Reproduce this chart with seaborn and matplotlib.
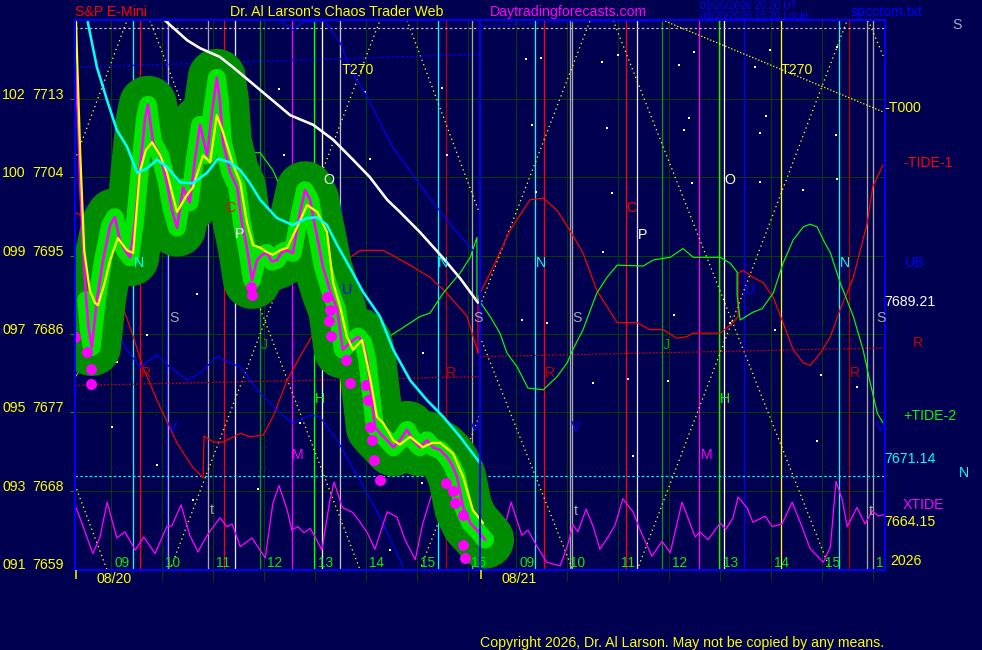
import numpy as np
import matplotlib
matplotlib.use("Agg")
import matplotlib.pyplot as plt
import seaborn as sns

# ------------------------------------------------------------------ data
SESSION_OPEN = 8.3      # clock hour of first bar of each session
SESSION_LEN = 7.94      # hours shown per session
DAYS = ["08/20", "08/21"]
HOURS = [9, 10, 11, 12, 13, 14, 15, 16]
PRICE_TICKS = [7659, 7668, 7677, 7686, 7695, 7704, 7713]
PRICE_CODES = ["091", "093", "095", "097", "099", "100", "102"]

# day-1 price (close) line
price_h = [8.30, 8.36, 8.40, 8.46, 8.52, 8.57, 8.63, 8.73, 8.85, 8.99, 9.08, 9.18, 9.28, 9.38, 9.48, 9.57,
           9.67, 9.73, 9.83, 9.97, 10.10, 10.20, 10.30, 10.42, 10.55, 10.65, 10.75, 10.89, 10.99, 11.08,
           11.14, 11.20, 11.34, 11.48, 11.57, 11.67, 11.77, 11.87, 11.97, 12.06, 12.16, 12.26, 12.36,
           12.46, 12.57, 12.71, 12.81, 12.91, 12.97, 13.06, 13.16, 13.30, 13.44, 13.55, 13.69, 13.85,
           13.95, 14.03, 14.08, 14.18, 14.28, 14.42, 14.54, 14.67, 14.81, 14.93, 15.06, 15.20, 15.32,
           15.46, 15.59, 15.69, 15.79, 15.91, 16.05, 16.18, 16.34]
price_p = [7716.5, 7711.1, 7703.4, 7695.9, 7689.9, 7686.5, 7684.5, 7689.9, 7694.5, 7698.5, 7699.4, 7696.8,
           7695.6, 7694.8, 7699.1, 7704.8, 7710.6, 7712.3, 7708.0, 7706.5, 7703.4, 7700.2, 7698.2, 7702.8,
           7701.1, 7706.0, 7710.0, 7706.5, 7711.7, 7715.4, 7712.8, 7708.0, 7704.6, 7702.8, 7698.8, 7695.9,
           7692.2, 7694.5, 7695.1, 7695.3, 7694.3, 7694.5, 7695.4, 7695.6, 7695.3, 7699.9, 7702.5, 7701.4,
           7699.4, 7696.8, 7693.7, 7691.0, 7688.8, 7684.2, 7685.0, 7685.7, 7685.0, 7683.0, 7680.4, 7675.3,
           7674.6, 7673.8, 7673.0, 7673.8, 7675.0, 7673.8, 7673.0, 7673.8, 7673.0, 7672.7, 7671.9, 7671.0,
           7669.6, 7666.1, 7664.3, 7663.5, 7662.4]

# short moving average (yellow)
ma_h = [8.32, 8.34, 8.40, 8.48, 8.59, 8.69, 8.75, 8.87, 8.99, 9.14, 9.32, 9.44, 9.57, 9.69, 9.81, 9.97,
        10.10, 10.30, 10.50, 10.61, 10.81, 10.95, 11.08, 11.20, 11.40, 11.54, 11.67, 11.79, 11.93, 12.06,
        12.18, 12.32, 12.46, 12.65, 12.85, 13.05, 13.24, 13.36, 13.50, 13.63, 13.75, 13.93, 14.08, 14.22,
        14.34, 14.54, 14.67, 14.87, 15.12, 15.30, 15.46, 15.71, 15.91, 16.10, 16.30]
ma_p = [7722.0, 7718.0, 7707.1, 7695.6, 7691.0, 7689.6, 7689.3, 7691.6, 7694.5, 7697.0, 7695.6, 7695.3,
        7704.6, 7707.1, 7708.0, 7706.5, 7704.6, 7700.0, 7702.0, 7702.8, 7706.5, 7705.7, 7711.1, 7709.2,
        7705.4, 7703.4, 7698.8, 7696.2, 7695.9, 7695.4, 7695.1, 7695.6, 7695.9, 7698.2, 7700.8, 7700.0,
        7697.7, 7691.9, 7689.1, 7685.7, 7684.2, 7685.3, 7681.1, 7676.5, 7675.8, 7673.8, 7673.3, 7674.2,
        7673.0, 7673.5, 7673.5, 7672.3, 7669.6, 7665.8, 7664.3]

# long moving average (cyan)
cyan_h = [8.55, 8.73, 8.93, 9.12, 9.32, 9.52, 9.71, 9.91, 10.10, 10.36, 10.61, 10.89, 11.10, 11.34, 11.54,
          11.73, 11.93, 12.26, 12.57, 12.85, 13.05, 13.24, 13.44, 13.69, 13.95, 14.28, 14.54, 14.87, 15.20,
          15.52, 15.85, 16.24]
cyan_p = [7721.8, 7716.6, 7712.8, 7709.4, 7707.5, 7704.5, 7705.0, 7706.0, 7705.2, 7703.4, 7703.3, 7704.5,
          7706.1, 7705.7, 7704.8, 7703.3, 7701.4, 7699.3, 7698.5, 7699.3, 7699.4, 7698.5, 7696.2, 7693.6,
          7690.8, 7688.0, 7684.2, 7680.7, 7678.4, 7676.5, 7674.2, 7671.2]

# white projection line
white_h = [10.06, 10.50, 10.75, 11.14, 11.40, 11.93, 12.52, 12.97, 13.36, 13.75, 14.08, 14.42, 14.67,
           15.06, 15.46, 15.85, 16.20]
white_p = [7722.0, 7719.7, 7718.8, 7717.8, 7716.6, 7714.0, 7711.1, 7710.0, 7708.3, 7706.0, 7704.0, 7701.4,
           7700.0, 7697.7, 7695.1, 7692.4, 7689.6]

# low markers (magenta dots)
dot_h = [8.30, 8.54, 8.61, 8.61, 11.75, 11.77, 13.24, 13.30, 13.28, 13.32, 13.61, 13.69, 14.01, 14.05,
         14.08, 14.12, 14.16, 14.28, 15.57, 15.71, 15.75, 15.91, 15.91, 15.95]
dot_p = [7685.7, 7683.9, 7682.0, 7680.3, 7691.4, 7690.5, 7690.2, 7688.8, 7687.5, 7685.8, 7683.0, 7680.4,
         7680.1, 7678.4, 7675.3, 7673.8, 7671.5, 7669.2, 7668.9, 7668.0, 7666.6, 7665.2, 7661.8, 7660.3]

# -TIDE-1 (red)
tide1_d1_h = [8.30, 8.65, 8.85, 8.99, 9.12, 9.42, 9.63, 9.97, 10.30, 10.61, 10.81, 10.83, 11.01, 11.20,
              11.54, 11.73, 11.99, 12.18, 12.46, 12.71, 13.05, 13.30, 13.63, 13.89, 14.34, 14.81, 15.26,
              15.59, 15.99, 16.18, 16.20]
tide1_d1_p = [7700.0, 7698.8, 7695.9, 7693.6, 7691.0, 7686.1, 7682.2, 7677.6, 7673.5, 7670.7, 7669.5,
              7674.3, 7673.6, 7673.6, 7674.6, 7674.2, 7674.4, 7676.5, 7680.7, 7683.4, 7686.8, 7690.2,
              7694.5, 7695.6, 7695.6, 7694.1, 7692.5, 7690.7, 7688.0, 7684.2, 7683.8]
tide1_d2_h = [8.26, 8.50, 8.89, 9.28, 9.54, 9.81, 10.06, 10.32, 10.59, 10.99, 11.38, 11.63, 11.89, 12.16,
              12.36, 12.48, 13.01, 13.26, 13.36, 13.36, 13.46, 13.65, 13.85, 14.05, 14.24, 14.44, 14.64,
              14.77, 14.97, 15.17, 15.36, 15.62, 15.89, 16.00, 16.20]
tide1_d2_p = [7690.2, 7693.0, 7697.9, 7701.4, 7701.6, 7700.2, 7697.9, 7695.3, 7691.0, 7687.3, 7687.3,
              7686.5, 7686.5, 7685.5, 7685.7, 7686.1, 7686.1, 7687.3, 7688.0, 7693.0, 7693.3, 7692.5,
              7691.9, 7690.2, 7687.3, 7684.2, 7682.7, 7682.4, 7683.8, 7685.7, 7688.8, 7692.5, 7698.7,
              7702.9, 7705.4]

# +TIDE-2 (green)
tide2_d1_h = [8.30, 8.65, 8.99, 9.32, 9.57, 9.77, 10.16, 10.50, 10.75, 10.83, 10.85, 11.01, 11.40, 11.93,
              12.18, 12.46, 12.71, 12.97, 13.24, 13.50, 13.75, 14.08, 14.34, 14.67, 15.06, 15.26, 15.52,
              15.85, 16.05, 16.18]
tide2_d1_p = [7681.0, 7684.2, 7688.0, 7691.9, 7695.9, 7701.6, 7708.0, 7710.8, 7711.5, 7713.4, 7707.3,
              7707.1, 7706.8, 7706.8, 7704.8, 7701.0, 7697.1, 7693.3, 7690.7, 7687.6, 7685.7, 7685.3,
              7685.3, 7686.5, 7688.0, 7688.4, 7690.7, 7693.0, 7694.8, 7697.1]
tide2_d2_h = [8.24, 8.50, 8.69, 8.83, 9.03, 9.24, 9.54, 9.81, 10.01, 10.12, 10.32, 10.59, 10.79, 10.99,
              11.50, 11.70, 12.03, 12.28, 12.48, 13.01, 13.21, 13.34, 13.34, 13.40, 13.65, 13.83, 14.05,
              14.24, 14.44, 14.64, 14.77, 14.91, 15.03, 15.17, 15.36, 15.62, 15.81, 15.95, 16.09, 16.20]
tide2_d2_p = [7690.2, 7688.0, 7686.1, 7683.8, 7682.2, 7679.8, 7679.6, 7681.1, 7682.7, 7684.2, 7686.5,
              7690.7, 7692.5, 7693.9, 7693.8, 7694.5, 7694.8, 7695.8, 7694.8, 7694.8, 7694.1, 7693.1,
              7690.5, 7687.6, 7688.5, 7688.9, 7690.7, 7694.1, 7696.8, 7698.3, 7698.6, 7698.3, 7696.8,
              7695.3, 7691.9, 7688.0, 7684.2, 7680.4, 7676.9, 7675.8]

# thin blue lines (day 1)
blue_a_h = [12.32, 12.57, 12.77, 13.20, 13.50, 13.69, 14.03, 14.28, 14.54, 14.93, 15.32, 15.71, 16.10]
blue_a_p = [7721.9, 7720.9, 7721.8, 7721.9, 7719.4, 7716.5, 7713.2, 7710.3, 7707.3, 7704.2, 7701.1,
            7698.2, 7695.6]
blue_b_h = [8.50, 8.73, 8.85, 8.99, 9.32, 9.57, 9.91, 10.16, 10.50, 10.75, 11.08, 11.54, 11.93, 12.32,
            12.57, 12.91, 13.10, 13.44, 13.89, 14.28, 14.73]
blue_b_p = [7700.8, 7694.5, 7691.0, 7687.8, 7684.2, 7682.2, 7683.6, 7682.2, 7680.7, 7681.5, 7683.4,
            7682.2, 7679.2, 7676.9, 7675.8, 7676.7, 7676.5, 7673.8, 7669.2, 7665.0, 7659.3]

# XTIDE (magenta oscillator)
xtide_d1_h = [8.32, 8.46, 8.65, 8.79, 8.93, 9.12, 9.28, 9.48, 9.65, 9.87, 10.10, 10.20, 10.38, 10.55,
              10.71, 10.89, 11.14, 11.28, 11.38, 11.54, 11.77, 12.03, 12.18, 12.30, 12.46, 12.55, 12.67,
              12.79, 12.91, 13.01, 13.14, 13.30, 13.38, 13.54, 13.75, 13.89, 14.03, 14.18, 14.42, 14.61,
              14.77, 14.97, 15.12, 15.32, 15.50, 15.71, 15.89, 16.08, 16.24]
xtide_d1_p = [7666.1, 7663.9, 7660.8, 7662.7, 7666.7, 7662.6, 7663.3, 7661.2, 7662.7, 7660.8, 7663.9,
              7664.0, 7666.4, 7662.9, 7661.0, 7662.9, 7664.9, 7663.9, 7664.2, 7661.6, 7662.6, 7660.3,
              7666.6, 7668.6, 7665.8, 7663.5, 7663.9, 7663.2, 7663.7, 7662.7, 7661.2, 7667.0, 7669.0,
              7666.1, 7665.5, 7664.4, 7663.2, 7661.3, 7665.6, 7665.0, 7662.4, 7660.1, 7664.3, 7668.1,
              7664.3, 7666.1, 7665.6, 7663.5, 7661.8]
xtide_d2_h = [8.46, 8.63, 8.91, 9.12, 9.24, 9.42, 9.61, 9.87, 10.01, 10.12, 10.22, 10.38, 10.52, 10.65,
              10.81, 10.95, 11.10, 11.30, 11.44, 11.67, 11.87, 12.03, 12.26, 12.52, 12.61, 12.77, 13.01,
              13.12, 13.26, 13.36, 13.54, 13.65, 13.89, 14.03, 14.22, 14.42, 14.61, 14.77, 15.03, 15.17,
              15.28, 15.40, 15.50, 15.69, 15.85, 15.99, 16.11, 16.24]
xtide_d2_p = [7661.0, 7660.5, 7666.7, 7662.9, 7663.5, 7661.6, 7659.8, 7659.4, 7661.6, 7664.1, 7663.3,
              7665.9, 7663.9, 7661.3, 7662.7, 7664.1, 7667.1, 7665.6, 7663.5, 7660.5, 7662.2, 7660.9,
              7666.7, 7662.7, 7663.3, 7662.4, 7664.3, 7663.6, 7664.9, 7667.3, 7666.0, 7664.4, 7665.1,
              7663.9, 7664.2, 7666.7, 7663.9, 7661.4, 7659.8, 7661.6, 7669.1, 7667.0, 7663.9, 7666.1,
              7664.2, 7665.7, 7665.1, 7665.3]

# timing lines: (clock hour, kind)
astro_d1_h = [9.44, 9.57, 10.10, 10.12, 10.91, 11.22, 11.44, 11.93, 12.55, 12.99, 13.14, 13.50, 13.52,
              15.42, 15.57, 16.08]
astro_d1_k = ["N", "R", "V", "S", "t", "C", "P", "J", "M", "H", "O", "T", "U", "N", "R2", "S"]
astro_d2_h = [9.38, 9.55, 10.06, 10.10, 11.16, 11.38, 11.87, 12.59, 12.98, 13.08, 13.47, 14.21, 15.33,
              15.53, 15.88, 16.01]
astro_d2_k = ["N", "R", "S", "t", "C", "P", "J", "M", "H", "O", "U", "T", "N", "R2", "S", "t"]

# dotted time/price lines (day, start hour, start price, end hour, end price)
yel_d = [0, 0, 0, 0, 0, 0, 1, 1, 1, 1, 1]
yel_h0 = [8.30, 8.30, 9.77, 10.16, 14.81, 15.06, 8.30, 8.30, 10.91, 11.38, 15.91]
yel_p0 = [7668.7, 7706.0, 7722.0, 7658.9, 7722.0, 7658.9, 7689.2, 7685.7, 7722.0, 7658.9, 7722.0]
yel_h1 = [8.93, 9.32, 13.89, 14.28, 16.24, 16.24, 10.46, 10.12, 15.17, 15.50, 16.24]
yel_p1 = [7658.9, 7722.0, 7658.9, 7722.0, 7699.7, 7676.8, 7722.0, 7658.9, 7658.9, 7722.0, 7717.4]
t270_h = [11.93, 16.24]
t270_p = [7721.9, 7711.4]
ub_d1_h = [8.30, 16.24]
ub_d1_p = [7716.6, 7718.1]
ub_d2_h = [8.30, 9.90, 11.93]
ub_d2_p = [7721.3, 7721.8, 7721.9]
red_lvl_h = [8.30, 16.24]
red_lvl_d1 = [7680.1, 7681.1]
red_lvl_d2 = [7683.4, 7684.4]
grey_lvl = 7721.1
cyan_lvl = 7669.7

# faint background dots
star_d1_h = [12.40, 12.30, 13.99, 15.50, 15.59, 14.08, 9.12, 9.71, 10.69, 10.61, 9.91, 9.03, 12.71,
             11.89, 15.12, 15.10, 14.48]
star_d1_p = [7706.5, 7714.1, 7713.8, 7714.2, 7706.5, 7706.1, 7682.8, 7685.9, 7690.6, 7667.0, 7671.0,
             7675.3, 7675.8, 7668.2, 7683.8, 7668.9, 7661.2]
star_d2_h = [9.20, 9.50, 10.69, 12.20, 12.50, 13.69, 13.99, 15.30, 11.00, 9.32, 10.79, 12.40, 12.30,
             13.91, 13.79, 15.28, 10.89, 12.46, 13.79, 15.30, 9.40, 9.12, 9.61, 10.71, 10.52, 11.20, 11.30,
             12.10, 11.99, 13.20, 14.08, 14.98, 14.91, 15.69, 14.63]
star_d2_p = [7717.6, 7717.7, 7717.2, 7716.9, 7718.4, 7716.6, 7718.6, 7718.9, 7718.0, 7710.0, 7709.6,
             7710.8, 7709.4, 7711.0, 7709.1, 7708.8, 7702.2, 7703.3, 7703.4, 7703.8, 7702.3, 7687.6,
             7687.3, 7695.4, 7680.4, 7680.8, 7672.0, 7688.2, 7680.6, 7687.3, 7686.5, 7681.3, 7673.7,
             7679.9, 7702.5]

# ------------------------------------------------------------------ style
BG = "#000050"
GRID = "#004000"
KIND_COLORS = {"N": "#00FFFF", "R": "#FF0000", "R2": "#B00000", "V": "#0000FF", "S": "#A8A8A8",
               "t": "#A8A8A8", "C": "#FF0000", "P": "#E6E6FF", "J": "#00A000", "M": "#FF00FF",
               "H": "#00FF00", "O": "#FFFFFF", "T": "#FFFF00", "U": "#0000FF"}
W, H = 982, 650
PX = 0.72  # points per pixel at dpi 100

sns.set_theme(style="dark", rc={"axes.facecolor": BG, "figure.facecolor": BG})
plt.rcParams["font.family"] = ["Liberation Sans", "DejaVu Sans"]
FS = 10.2

fig = plt.figure(figsize=(W / 100, H / 100), dpi=100)
ax = fig.add_axes([75 / W, 80 / H, 810 / W, 550 / H])
Y0, Y1 = 7658.92, 7722.03
ax.set_xlim(0, 2 * SESSION_LEN)
ax.set_ylim(Y0, Y1)
ax.axis("off")


def X(day, h):
    return np.asarray(h, dtype=float) - SESSION_OPEN + SESSION_LEN * day


def line(x, y, color, lw_px, z, ls="-", **kw):
    sns.lineplot(x=np.asarray(x, dtype=float), y=np.asarray(y, dtype=float), ax=ax, color=color,
                 linewidth=lw_px * PX, linestyle=ls, sort=False, estimator=None, legend=False,
                 zorder=z, **kw)


def ftext(xp, yp, s, color, size=FS, ha="left", va="center", **kw):
    fig.text(xp / W, 1 - yp / H, s, color=color, fontsize=size, ha=ha, va=va, **kw)


# grid
for day in range(2):
    for hr in HOURS:
        ax.vlines(X(day, hr), Y0 - 1.25, Y1, color=GRID, lw=1 * PX, zorder=1, clip_on=False)
for p in PRICE_TICKS[1:]:
    ax.axhline(p, color=GRID, lw=1 * PX, zorder=1)
    ax.hlines(p, -0.006, 0, transform=ax.get_yaxis_transform(), color="#00A000", lw=1 * PX,
              clip_on=False)

# timing lines
for day, hs, ks in [(0, astro_d1_h, astro_d1_k), (1, astro_d2_h, astro_d2_k)]:
    for h, k in zip(hs, ks):
        ax.axvline(X(day, h), color=KIND_COLORS[k], lw=1.3 * PX, zorder=2)

# dotted reference lines
for d, h0, p0, h1, p1 in zip(yel_d, yel_h0, yel_p0, yel_h1, yel_p1):
    line(X(d, [h0, h1]), [p0, p1], "#FFFF00", 1.3, 3, ls=(0, (1, 2.6)))
line(X(1, t270_h), t270_p, "#FFFF00", 1.3, 3, ls=(0, (1, 1.5)))
line(X(0, ub_d1_h), ub_d1_p, "#0000FF", 1.2, 3, ls=(0, (2, 2)))
line(X(1, ub_d2_h), ub_d2_p, "#0000FF", 1.2, 3, ls=(0, (2, 2)))
line(X(0, red_lvl_h), red_lvl_d1, "#D00000", 1.2, 3, ls=(0, (1.5, 1.5)))
line(X(1, red_lvl_h), red_lvl_d2, "#D00000", 1.2, 3, ls=(0, (1.5, 1.5)))
ax.axhline(grey_lvl, color="#C0C0C0", lw=1.2 * PX, ls=(0, (2, 2)), zorder=3)
ax.axhline(cyan_lvl, color="#00FFFF", lw=1.2 * PX, ls=(0, (2, 2)), zorder=3)

# faint dots
sns.scatterplot(x=np.concatenate([X(0, star_d1_h), X(1, star_d2_h)]), y=star_d1_p + star_d2_p, ax=ax,
                color="white", s=1.5, marker="s", linewidth=0, zorder=3, legend=False)

# tides and thin lines
line(np.concatenate([X(0, tide1_d1_h), X(1, tide1_d2_h)]), tide1_d1_p + tide1_d2_p, "#FF0000", 1.2, 4)
line(np.concatenate([X(0, tide2_d1_h), X(1, tide2_d2_h)]), tide2_d1_p + tide2_d2_p, "#00FF00", 1.2, 4)
line(X(0, blue_a_h), blue_a_p, "#0000FF", 1.2, 4)
line(X(0, blue_b_h), blue_b_p, "#0000FF", 1.2, 4)
line(np.concatenate([X(0, xtide_d1_h), X(1, xtide_d2_h)]), xtide_d1_p + xtide_d2_p, "#FF00FF", 1.3, 4)

# price glow
gx, gy = X(0, price_h[4:]), price_p[4:]
line(gx, gy, "#008C00", 58, 5, solid_capstyle="round", solid_joinstyle="round")
line(gx, gy, "#00E600", 18, 5.1, solid_capstyle="round", solid_joinstyle="round")
line(X(0, price_h), price_p, "#FF00FF", 2.6, 5.3)
sns.scatterplot(x=X(0, dot_h), y=dot_p, ax=ax, color="#FF00FF", s=62, linewidth=0, zorder=5.4,
                legend=False)
line(X(0, ma_h), ma_p, "#FFFF00", 2.2, 5.5)
line(X(0, cyan_h), cyan_p, "#00FFFF", 2.6, 5.6)
line(X(0, white_h), white_p, "#FFFFFF", 2.6, 5.6)

# frame
for xv in (0, SESSION_LEN, 2 * SESSION_LEN):
    ax.axvline(xv, color="#0000FF", lw=2 * PX, zorder=10, clip_on=False)
for yv in (Y0, Y1):
    ax.axhline(yv, color="#0000FF", lw=2 * PX, zorder=10, clip_on=False)

# axis texts
xt = ax.get_xaxis_transform()
yt = ax.get_yaxis_transform()
for day, lab in enumerate(DAYS):
    for hr in HOURS:
        ax.text(X(day, hr) + 0.07, 0.013, f"{hr:02d}", transform=xt, color="#00F000", fontsize=9.8,
                ha="left", va="center", zorder=6, clip_on=True)
    ax.text(X(day, 8.73), -0.016, lab, transform=xt, color="#FFFF00", fontsize=FS, ha="left",
            va="center")
    ax.vlines(X(day, 8.32), Y0 - 1.0, Y0, color="#FFFF00", lw=1.5 * PX, clip_on=False, zorder=10)
for p, code in zip(PRICE_TICKS, PRICE_CODES):
    ax.text(-0.0901, p, code, transform=yt, color="#FFFF00", fontsize=FS, ha="left", va="baseline")
    ax.text(-0.0136, p, str(p), transform=yt, color="#FFFF00", fontsize=FS, ha="right", va="baseline")

# header / footer
ftext(75, 12, "S&P E-Mini", "#FF0000")
ftext(230, 12, "Dr. Al Larson's Chaos Trader Web", "#FFFF00")
ftext(490, 12, "Daytradingforecasts.com", "#FF00FF")
ftext(700, 6, "08/20/2026 20:20 UT", "#0000FF", size=7.4)
ftext(700, 16, "08/20/2026 15:20 Local", "#0000FF", size=7.4)
ftext(851, 12, "spcctom.txt", "#0000FF")
ftext(480, 643, "Copyright 2026, Dr. Al Larson. May not be copied by any means.", "#FFFF00")

# right side labels
ftext(957, 25, "S", "#A8A8C8", ha="center")
ftext(884, 108, "-T000", "#FFFF00")
ftext(903, 163, "-TIDE-1", "#FF0000")
ftext(905, 263, "UB", "#0000FF")
ftext(884, 302, "7689.21", "#FFFFFF")
ftext(913, 343, "R", "#C00000")
ftext(903, 416, "+TIDE-2", "#00FF00")
ftext(884, 459, "7671.14", "#00FFFF")
ftext(964, 473, "N", "#00FFFF", ha="center")
ftext(903, 505, "XTIDE", "#FF00FF")
ftext(884, 522, "7664.15", "#FFFF00")
ftext(890, 561, "2026", "#FFFF00")

# timing line letters
letters = [("N", "#00FFFF", [(139, 263), (443, 263), (541, 263), (845, 263)]),
           ("S", "#A8A8A8", [(174, 318), (478, 318), (577, 318), (881, 318)]),
           ("R", "#C00000", [(146, 373), (451, 373), (550, 373), (855, 373)]),
           ("V", "#0000FF", [(173, 428), (475, 427), (576, 427), (881, 427)]),
           ("O", "#FFFFFF", [(329, 180), (730, 180)]),
           ("C", "#FF0000", [(230, 208), (631, 208)]),
           ("P", "#FFFFFF", [(240, 234), (643, 235)]),
           ("U", "#0000FF", [(347, 290), (750, 290)]),
           ("J", "#00A000", [(264, 345), (666, 345)]),
           ("H", "#00FF00", [(320, 399), (725, 399)]),
           ("M", "#FF00FF", [(298, 455), (707, 455)]),
           ("t", "#A8A8A8", [(212, 510), (576, 511), (871, 511)]),
           ("T270", "#FFFF00", [(358, 70), (797, 70)])]
for s, c, pos in letters:
    for xp, yp in pos:
        ftext(xp, yp, s, c, ha="center")

fig.savefig("out.png", dpi=100, facecolor=BG)
